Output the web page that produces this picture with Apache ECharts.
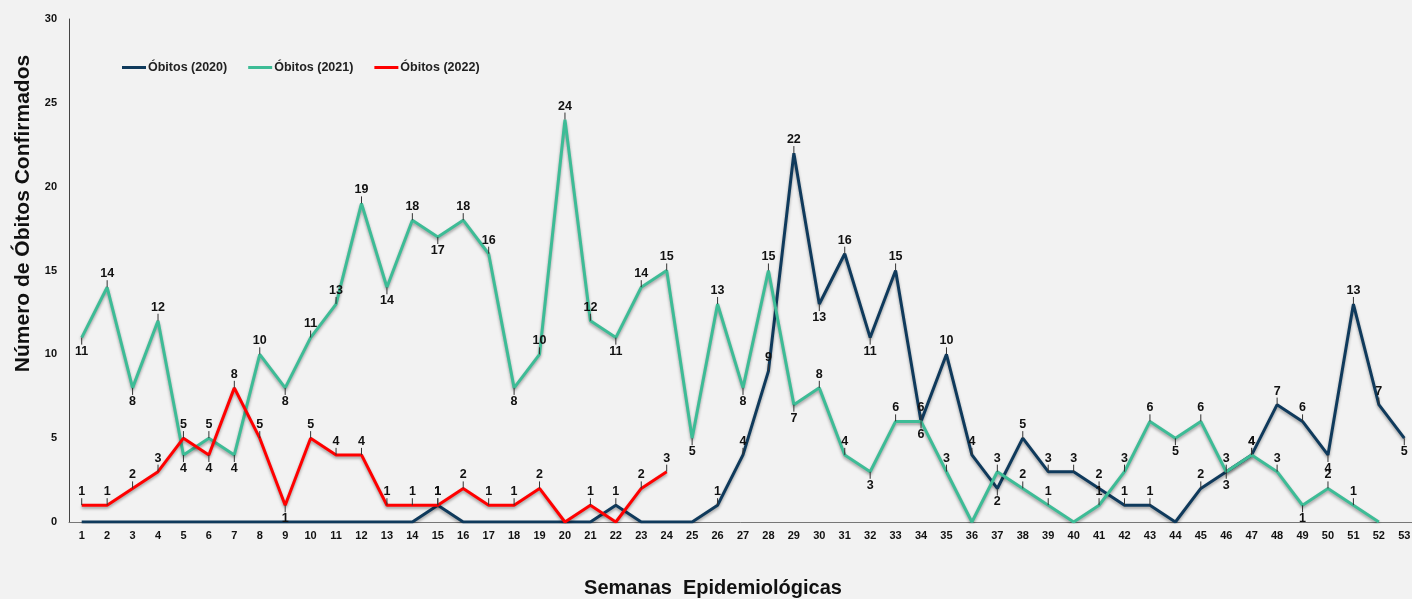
<!DOCTYPE html>
<html>
<head>
<meta charset="utf-8">
<script src="https://cdn.jsdelivr.net/npm/echarts@6/dist/echarts.min.js"></script>
<style>
  html, body { margin: 0; padding: 0; background: #f2f2f2; }
  #chart { width: 1412px; height: 599px; }
</style>
</head>
<body>
<div id="chart"></div>
<script>
const weeks = Array.from({ length: 53 }, (_, i) => String(i + 1));
const obitos2020 = [0, 0, 0, 0, 0, 0, 0, 0, 0, 0, 0, 0, 0, 0, 1, 0, 0, 0, 0, 0, 0, 1, 0, 0, 0, 1, 4, 9, 22, 13, 16, 11, 15, 6, 10, 4, 2, 5, 3, 3, 2, 1, 1, 0, 2, 3, 4, 7, 6, 4, 13, 7, 5];
const obitos2021 = [11, 14, 8, 12, 4, 5, 4, 10, 8, 11, 13, 19, 14, 18, 17, 18, 16, 8, 10, 24, 12, 11, 14, 15, 5, 13, 8, 15, 7, 8, 4, 3, 6, 6, 3, 0, 3, 2, 1, 0, 1, 3, 6, 5, 6, 3, 4, 3, 1, 2, 1, 0];
const obitos2022 = [1, 1, 2, 3, 5, 4, 8, 5, 1, 5, 4, 4, 1, 1, 1, 2, 1, 1, 2, 0, 1, 0, 2, 3];

const chart = echarts.init(document.getElementById("chart"));

// label under strict valleys, above everything else; zeros get no label
function labelled(values) {
  return values.map((v, i) => {
    const lowerThanPrev = i === 0 || v < values[i - 1];
    const lowerThanNext = i === values.length - 1 || v < values[i + 1];
    return {
      value: v,
      label: { show: v !== 0, position: lowerThanPrev && lowerThanNext ? "bottom" : "top" },
    };
  });
}

function lineSeries(name, values, color) {
  return {
    name,
    type: "line",
    data: labelled(values),
    symbol: "circle",
    symbolSize: 0.1,
    showSymbol: true,
    showAllSymbol: true,
    lineStyle: {
      color,
      width: 3,
      shadowColor: "rgba(0,0,0,0.35)",
      shadowBlur: 3,
      shadowOffsetY: 2,
    },
    itemStyle: { color },
    label: {
      color: "#111",
      fontFamily: "Liberation Sans",
      fontWeight: "bold",
      fontSize: 12.5,
      distance: 1,
    },
    labelLayout: (p) => ({ dy: p.labelRect.y + p.labelRect.height / 2 < p.rect.y ? -6 : 6 }),
    labelLine: { show: true, lineStyle: { color: "#333", width: 1 } },
    emphasis: { disabled: true },
  };
}

chart.setOption({
  backgroundColor: "#f2f2f2",
  animation: false,
  textStyle: { fontFamily: "Liberation Sans" },
  legend: {
    left: 117,
    top: 56,
    itemWidth: 24,
    itemHeight: 3,
    itemGap: 21,
    icon: "rect",
    textStyle: { fontWeight: "bold", fontSize: 12.5, color: "#222", padding: [0, 0, 0, -3] },
    data: ["Óbitos (2020)", "Óbitos (2021)", "Óbitos (2022)"],
  },
  grid: { left: 69, right: -5, top: 19, bottom: 77, containLabel: false, outerBoundsMode: "none" },
  xAxis: {
    type: "category",
    data: weeks,
    name: "Semanas  Epidemiológicas",
    nameLocation: "middle",
    nameGap: 56,
    nameTextStyle: { fontSize: 20, fontWeight: "bold", color: "#111", padding: [0, 60, 0, 0] },
    axisLine: { lineStyle: { color: "#777" } },
    axisTick: { show: false },
    axisLabel: { fontWeight: "bold", fontSize: 11, color: "#111", margin: 8, interval: 0 },
  },
  yAxis: {
    type: "value",
    min: 0,
    max: 30,
    interval: 5,
    name: "Número de Óbitos Confirmados",
    nameLocation: "middle",
    nameGap: 35,
    nameTextStyle: { fontSize: 21, fontWeight: "bold", color: "#111", padding: [0, 0, 0, 114] },
    axisLine: { show: true, lineStyle: { color: "#444" } },
    axisTick: { show: false },
    splitLine: { show: false },
    axisLabel: { fontWeight: "bold", fontSize: 11, color: "#111", margin: 12 },
  },
  series: [
    lineSeries("Óbitos (2020)", obitos2020, "#0f3a5c"),
    lineSeries("Óbitos (2021)", obitos2021, "#3dbc96"),
    lineSeries("Óbitos (2022)", obitos2022, "#ff0000"),
  ],
});
</script>
</body>
</html>
